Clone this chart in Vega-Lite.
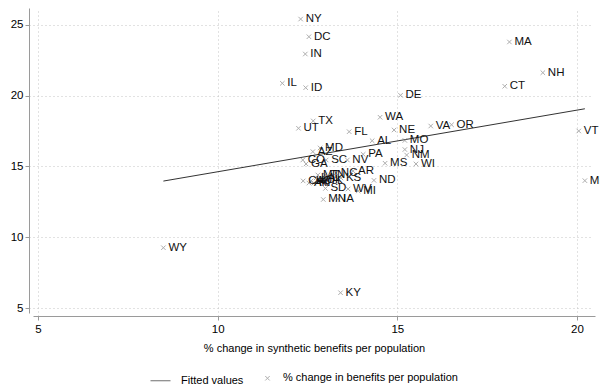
{
  "$schema": "https://vega.github.io/schema/vega-lite/v6.json",
  "autosize": {"type": "none"},
  "width": 562,
  "height": 305,
  "padding": {"left": 33, "top": 8, "right": 5, "bottom": 75},
  "background": "white",
  "datasets": {
    "points": [
      {"state": "NY", "synthetic": 12.31, "actual": 25.42, "series": "% change in benefits per population"},
      {"state": "DC", "synthetic": 12.54, "actual": 24.17, "series": "% change in benefits per population"},
      {"state": "IN", "synthetic": 12.44, "actual": 22.95, "series": "% change in benefits per population"},
      {"state": "IL", "synthetic": 11.80, "actual": 20.88, "series": "% change in benefits per population"},
      {"state": "ID", "synthetic": 12.45, "actual": 20.57, "series": "% change in benefits per population"},
      {"state": "MA", "synthetic": 18.12, "actual": 23.80, "series": "% change in benefits per population"},
      {"state": "NH", "synthetic": 19.05, "actual": 21.63, "series": "% change in benefits per population"},
      {"state": "CT", "synthetic": 17.99, "actual": 20.67, "series": "% change in benefits per population"},
      {"state": "DE", "synthetic": 15.09, "actual": 20.03, "series": "% change in benefits per population"},
      {"state": "WA", "synthetic": 14.52, "actual": 18.48, "series": "% change in benefits per population"},
      {"state": "TX", "synthetic": 12.66, "actual": 18.22, "series": "% change in benefits per population"},
      {"state": "UT", "synthetic": 12.25, "actual": 17.70, "series": "% change in benefits per population"},
      {"state": "FL", "synthetic": 13.66, "actual": 17.46, "series": "% change in benefits per population"},
      {"state": "NE", "synthetic": 14.91, "actual": 17.58, "series": "% change in benefits per population"},
      {"state": "VA", "synthetic": 15.93, "actual": 17.86, "series": "% change in benefits per population"},
      {"state": "OR", "synthetic": 16.51, "actual": 17.95, "series": "% change in benefits per population"},
      {"state": "VT", "synthetic": 20.05, "actual": 17.51, "series": "% change in benefits per population"},
      {"state": "AL", "synthetic": 14.30, "actual": 16.82, "series": "% change in benefits per population"},
      {"state": "MO", "synthetic": 15.21, "actual": 16.84, "series": "% change in benefits per population"},
      {"state": "MD", "synthetic": 12.85, "actual": 16.31, "series": "% change in benefits per population"},
      {"state": "AZ", "synthetic": 12.65, "actual": 16.05, "series": "% change in benefits per population"},
      {"state": "NJ", "synthetic": 15.21, "actual": 16.20, "series": "% change in benefits per population"},
      {"state": "PA", "synthetic": 14.05, "actual": 15.86, "series": "% change in benefits per population"},
      {"state": "NM", "synthetic": 15.26, "actual": 15.81, "series": "% change in benefits per population"},
      {"state": "CO", "synthetic": 12.37, "actual": 15.46, "series": "% change in benefits per population"},
      {"state": "SC", "synthetic": 13.02, "actual": 15.46, "series": "% change in benefits per population"},
      {"state": "NV", "synthetic": 13.61, "actual": 15.46, "series": "% change in benefits per population"},
      {"state": "GA", "synthetic": 12.46, "actual": 15.18, "series": "% change in benefits per population"},
      {"state": "MS", "synthetic": 14.66, "actual": 15.23, "series": "% change in benefits per population"},
      {"state": "WI", "synthetic": 15.52, "actual": 15.18, "series": "% change in benefits per population"},
      {"state": "ME", "synthetic": 20.22, "actual": 14.00, "series": "% change in benefits per population"},
      {"state": "CA", "synthetic": 12.38, "actual": 13.98, "series": "% change in benefits per population"},
      {"state": "MT", "synthetic": 12.79, "actual": 14.40, "series": "% change in benefits per population"},
      {"state": "TN", "synthetic": 12.99, "actual": 14.40, "series": "% change in benefits per population"},
      {"state": "NC", "synthetic": 13.29, "actual": 14.54, "series": "% change in benefits per population"},
      {"state": "AR", "synthetic": 13.77, "actual": 14.68, "series": "% change in benefits per population"},
      {"state": "OK", "synthetic": 12.88, "actual": 14.05, "series": "% change in benefits per population"},
      {"state": "KS", "synthetic": 13.43, "actual": 14.19, "series": "% change in benefits per population"},
      {"state": "HI", "synthetic": 12.60, "actual": 13.98, "series": "% change in benefits per population"},
      {"state": "RI", "synthetic": 12.68, "actual": 13.83, "series": "% change in benefits per population"},
      {"state": "OH", "synthetic": 12.79, "actual": 13.98, "series": "% change in benefits per population"},
      {"state": "LA", "synthetic": 12.74, "actual": 14.19, "series": "% change in benefits per population"},
      {"state": "AK", "synthetic": 12.54, "actual": 13.83, "series": "% change in benefits per population"},
      {"state": "ND", "synthetic": 14.35, "actual": 14.02, "series": "% change in benefits per population"},
      {"state": "SD", "synthetic": 13.00, "actual": 13.45, "series": "% change in benefits per population"},
      {"state": "WV", "synthetic": 13.63, "actual": 13.41, "series": "% change in benefits per population"},
      {"state": "MI", "synthetic": 13.91, "actual": 13.27, "series": "% change in benefits per population"},
      {"state": "MN", "synthetic": 12.94, "actual": 12.67, "series": "% change in benefits per population"},
      {"state": "IA", "synthetic": 13.35, "actual": 12.70, "series": "% change in benefits per population"},
      {"state": "KY", "synthetic": 13.42, "actual": 6.08, "series": "% change in benefits per population"},
      {"state": "WY", "synthetic": 8.49, "actual": 9.26, "series": "% change in benefits per population"}
    ],
    "fit": [
      {"synthetic": 8.49, "fitted": 13.97},
      {"synthetic": 20.22, "fitted": 19.08}
    ]
  },
  "layer": [
    {
      "data": {"name": "fit"},
      "mark": {"type": "line", "strokeWidth": 1, "color": "#333333"},
      "encoding": {
        "x": {"field": "synthetic", "type": "quantitative", "scale": {"domain": [4.861, 20.502], "nice": false, "zero": false},
              "axis": {"values": [5, 10, 15, 20], "title": "% change in synthetic benefits per population"}},
        "y": {"field": "fitted", "type": "quantitative", "scale": {"domain": [4.647, 26.201], "nice": false, "zero": false},
              "axis": {"values": [5, 10, 15, 20, 25], "title": null}}
      }
    },
    {
      "data": {"name": "points"},
      "mark": {"type": "point", "filled": false, "strokeWidth": 1},
      "encoding": {
        "x": {"field": "synthetic", "type": "quantitative"},
        "y": {"field": "actual", "type": "quantitative"},
        "color": {"field": "series", "type": "nominal",
                  "scale": {"domain": ["Fitted values", "% change in benefits per population"], "range": ["#333333", "#8c8c8c"]},
                  "legend": {"title": null}},
        "shape": {"field": "series", "type": "nominal",
                  "scale": {"domain": ["Fitted values", "% change in benefits per population"], "range": ["stroke", "M-1,-1L1,1M1,-1L-1,1"]},
                  "legend": {"title": null}},
        "size": {"field": "series", "type": "nominal",
                 "scale": {"domain": ["Fitted values", "% change in benefits per population"], "range": [400, 20]},
                 "legend": {"title": null}}
      }
    },
    {
      "data": {"name": "points"},
      "mark": {"type": "text", "align": "left", "baseline": "middle", "dx": 5, "font": "Liberation Sans", "fontSize": 11.5, "color": "#111111"},
      "encoding": {
        "x": {"field": "synthetic", "type": "quantitative"},
        "y": {"field": "actual", "type": "quantitative"},
        "text": {"field": "state"}
      }
    }
  ],
  "config": {
    "view": {"stroke": null},
    "font": "Liberation Sans",
    "axis": {
      "labelFont": "Liberation Sans",
      "labelFontSize": 11.5,
      "labelColor": "#000",
      "domainColor": "#9a9a9a",
      "tickColor": "#9a9a9a",
      "tickSize": 4,
      "gridColor": "#c4c4c4",
      "gridDash": [1, 3],
      "titleFont": "Liberation Sans",
      "titleFontSize": 11,
      "titleFontWeight": "normal",
      "titleColor": "#000"
    },
    "axisX": {"offset": 3, "labelPadding": 3, "titlePadding": 8},
    "axisY": {"offset": 4, "labelPadding": 2},
    "legend": {
      "orient": "none",
      "legendX": 117,
      "legendY": 362,
      "direction": "horizontal",
      "labelFont": "Liberation Sans",
      "labelFontSize": 11,
      "labelColor": "#000",
      "labelOffset": 10,
      "labelLimit": 400,
      "columnPadding": 18,
      "symbolStrokeWidth": 1
    }
  }
}
